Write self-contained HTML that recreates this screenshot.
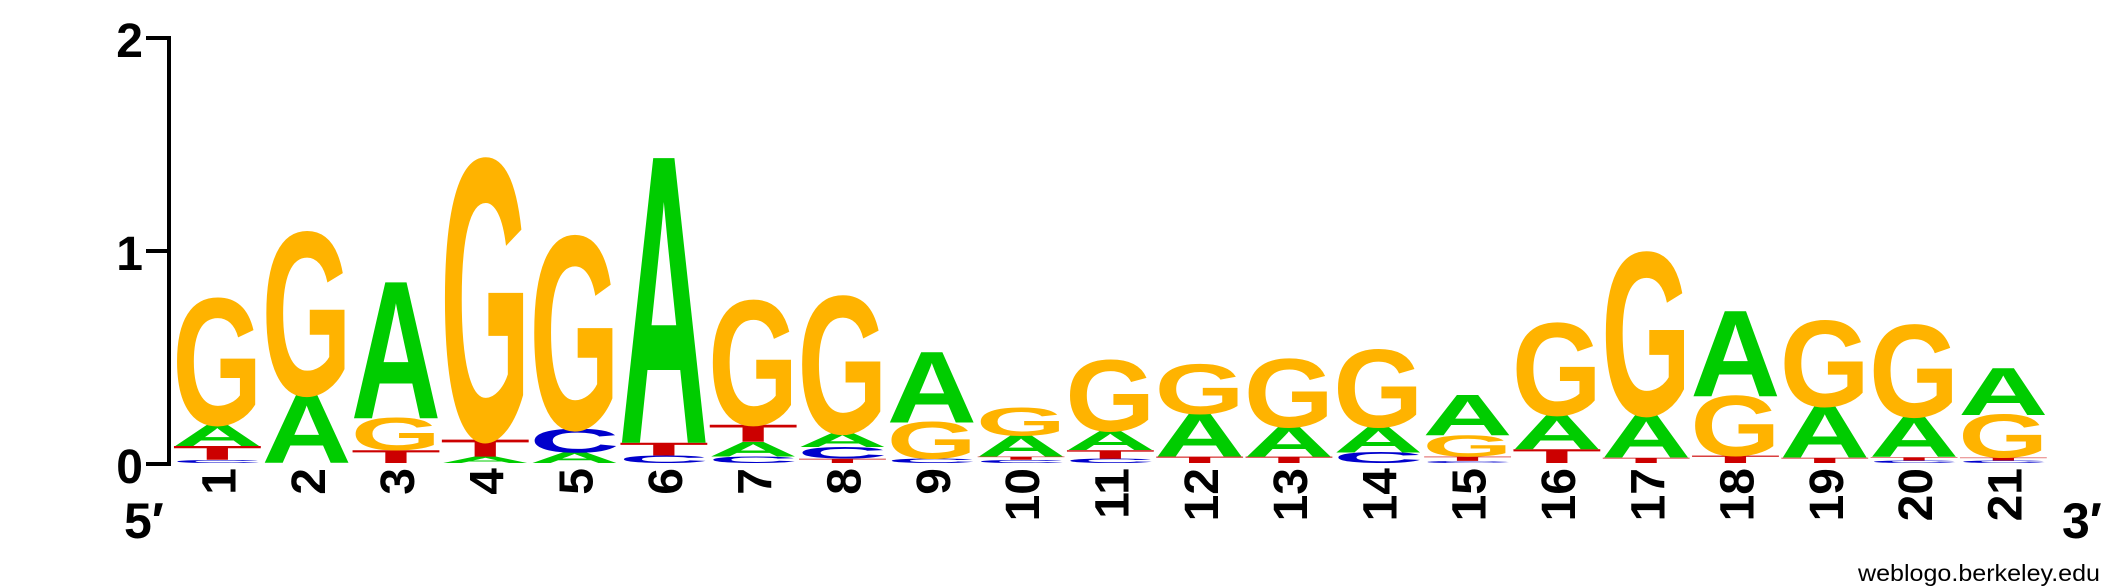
<!DOCTYPE html>
<html><head><meta charset="utf-8"><style>
html,body{margin:0;padding:0;background:#fff;}
svg{display:block;}
text{font-family:"Liberation Sans",sans-serif;}
</style></head><body>
<svg id="logo" width="2125" height="588" viewBox="0 0 2125 588" xmlns="http://www.w3.org/2000/svg">
<g>
  <line x1="169" y1="36" x2="169" y2="466" stroke="#000" stroke-width="4"/>
  <line x1="146" y1="38" x2="171" y2="38" stroke="#000" stroke-width="4"/>
  <line x1="146" y1="251" x2="171" y2="251" stroke="#000" stroke-width="4"/>
  <line x1="146" y1="464" x2="171" y2="464" stroke="#000" stroke-width="4"/>
  <text x="143" y="57" font-size="48" font-weight="bold" text-anchor="end">2</text>
  <text x="143" y="270" font-size="48" font-weight="bold" text-anchor="end">1</text>
  <text x="143" y="483" font-size="48" font-weight="bold" text-anchor="end">0</text>
</g>
<text x="124" y="538" font-size="50" font-weight="bold">5′</text>
<text x="2062" y="538" font-size="50" font-weight="bold">3′</text>
<text x="1858" y="581" font-size="23" textLength="242" lengthAdjust="spacingAndGlyphs">weblogo.berkeley.edu</text>
<g id="stacks"></g>
<g id="xlabels"></g>
</svg>
<script>
const positions = [1,2,3,4,5,6,7,8,9,10,11,12,13,14,15,16,17,18,19,20,21];
const bitsA = [0.10,0.32,0.64,0.03,0.05,1.34,0.07,0.065,0.33,0.10,0.09,0.20,0.14,0.12,0.19,0.16,0.20,0.40,0.24,0.19,0.22];
const bitsC = [0.015,0,0,0,0.11,0.035,0.03,0.055,0.02,0.015,0.02,0,0,0.05,0.01,0,0,0,0,0.012,0.012];
const bitsG = [0.59,0.76,0.15,1.31,0.90,0,0.58,0.64,0.17,0.13,0.33,0.23,0.32,0.36,0.10,0.43,0.76,0.28,0.40,0.43,0.20];
const bitsT = [0.065,0,0.06,0.08,0,0.06,0.08,0.02,0,0.015,0.04,0.03,0.03,0,0.02,0.065,0.025,0.035,0.025,0.015,0.013];

const NS="http://www.w3.org/2000/svg";
const y0=463, pxPerBit=213, colX0=175, pitch=89.3, colW=85;
const yScale = b => b*pxPerBit;
const xScale = i => colX0 + pitch*i;
const colors={A:"#00CC00",C:"#0000CC",G:"#FFB300",T:"#CC0000"};
const adv={A:72.2,C:72.2,G:77.8,T:61.1};
const stacks=document.getElementById('stacks');
const xl=document.getElementById('xlabels');
positions.forEach((p,i)=>{
  const items=[['A',bitsA[i]],['C',bitsC[i]],['G',bitsG[i]],['T',bitsT[i]]].filter(d=>d[1]>0).sort((a,b)=>a[1]-b[1]);
  let y=y0;
  const x=xScale(i);
  items.forEach(([L,b])=>{
    const h=yScale(b);
    const t=document.createElementNS(NS,'text');
    
    
    t.setAttribute('x',0);t.setAttribute('y',0);
    t.setAttribute('font-size',100);t.setAttribute('font-weight','bold');
    t.setAttribute('fill',colors[L]);
    t.setAttribute('transform',`translate(${x},${y}) scale(${colW/adv[L]*1.06},${h/69}) translate(${-adv[L]*0.03},0)`);
    t.textContent=L;
    stacks.appendChild(t);
    y-=h;
  });
  const n=document.createElementNS(NS,'text');
  
  
  n.setAttribute('font-size',48);n.setAttribute('font-weight','bold');
  n.setAttribute('text-anchor','end');
  n.setAttribute('transform',`translate(${x+colW/2+18},468) rotate(-90)`);
  n.textContent=p;
  xl.appendChild(n);
});
</script>
</body></html>
